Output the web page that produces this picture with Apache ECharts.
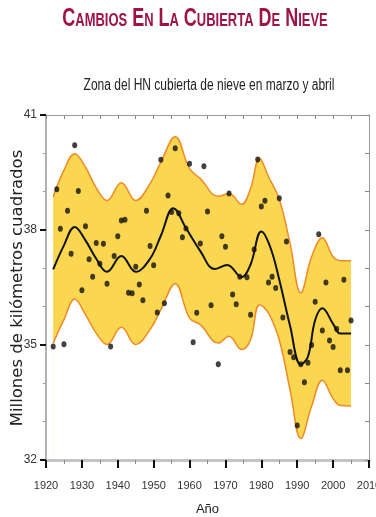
<!DOCTYPE html>
<html lang="es">
<head>
<meta charset="UTF-8">
<title>Cambios en la cubierta de nieve</title>
<script src="https://cdn.jsdelivr.net/npm/echarts@6/dist/echarts.min.js"></script>
<style>
  html, body { margin: 0; padding: 0; background: #fff; }
  #chart { width: 376px; height: 517px; }
</style>
</head>
<body>
<div id="chart"></div>
<script>
// observaciones anuales (millones de km2)
var obsYears = [1922, 1923, 1924, 1925, 1926, 1927, 1928, 1929, 1930, 1931, 1932, 1933, 1934, 1935, 1936, 1937, 1938, 1939,
    1940, 1941, 1942, 1943, 1944, 1945, 1946, 1947, 1948, 1949, 1950, 1951, 1952, 1953, 1954, 1955, 1956, 1957, 1958, 1959,
    1960, 1961, 1962, 1963, 1964, 1965, 1966, 1968, 1969, 1970, 1971, 1972, 1973, 1974, 1976, 1977, 1978, 1979,
    1980, 1981, 1982, 1983, 1984, 1985, 1986, 1987, 1988, 1989, 1990, 1991, 1992, 1993, 1994, 1995, 1996, 1997, 1998, 1999,
    2000, 2001, 2002, 2003, 2004, 2005];
var obsValues = [34.96, 39.06, 38.03, 35.02, 38.50, 37.38, 40.21, 39.02, 36.43, 38.10, 37.24, 36.78, 37.66, 37.12, 37.64, 36.60, 34.96, 37.32,
    37.84, 38.25, 38.27, 36.36, 36.35, 37.04, 36.58, 36.17, 38.50, 37.58, 37.08, 35.85, 39.83, 36.09, 38.90, 38.47, 40.13, 38.44, 37.81, 38.04,
    39.73, 35.07, 35.84, 37.65, 39.66, 38.48, 36.04, 34.50, 37.84, 37.56, 38.95, 36.32, 36.06, 36.78, 36.77, 35.79, 37.49, 39.84,
    38.61, 38.76, 36.63, 36.78, 36.49, 38.83, 35.72, 37.70, 34.82, 34.68, 32.90, 34.50, 34.03, 34.54, 35.00, 36.13, 37.89, 35.38, 36.63, 35.12,
    34.95, 35.42, 34.34, 36.70, 34.34, 35.64];

// curva suavizada
var trendYears = [1922, 1925, 1928, 1931, 1934, 1937, 1941, 1945, 1949, 1952, 1955.5, 1959, 1963, 1967, 1970.5, 1974.5, 1977, 1980,
    1982.5, 1985, 1988, 1991, 1993, 1995, 1997, 2000, 2002, 2005];
var trendValues = [36.97, 37.6, 38.08, 37.73, 37.25, 36.91, 37.32, 36.91, 37.25, 37.85, 38.57, 38.05, 37.45, 36.98, 37.09, 36.77, 37.1, 37.96,
    37.55, 36.7, 35.5, 34.49, 34.7, 35.65, 35.96, 35.55, 35.3, 35.3];

// banda de incertidumbre
var bandYears = [1922, 1925, 1928, 1931, 1934, 1937, 1941, 1945, 1949, 1952, 1956, 1960, 1963, 1968, 1971, 1974.5, 1977, 1979.5,
    1982, 1985, 1988, 1991, 1994, 1997, 2000, 2002, 2005];
var bandUpper = [38.86, 39.56, 39.99, 39.64, 39.1, 38.77, 39.23, 38.77, 39.21, 39.77, 40.43, 39.6, 39.34, 38.88, 38.95, 38.67, 39.08, 39.87,
    39.39, 38.8, 37.65, 36.36, 37.3, 37.8, 37.3, 37.2, 37.2];
var bandLower = [35.05, 35.66, 36.2, 35.79, 35.31, 35.01, 35.46, 35.01, 35.4, 35.92, 36.6, 35.7, 35.53, 35.05, 35.23, 34.88, 35.14, 36.05,
    35.83, 35.13, 33.83, 32.56, 33.4, 34.08, 33.6, 33.42, 33.41];

var chartDom = document.getElementById('chart');
var myChart = echarts.init(chartDom, null, { renderer: 'canvas' });

var upperData = bandYears.map(function (y, i) { return [y, bandUpper[i]]; });
var lowerData = bandYears.map(function (y, i) { return [y, bandLower[i]]; });
var trendData = trendYears.map(function (y, i) { return [y, trendValues[i]]; });
var obsData = obsYears.map(function (y, i) { return [y, obsValues[i]]; });

var labelFont = '"Liberation Sans", Arial, sans-serif';

var option = {
    animation: false,
    graphic: [
        {
            type: 'text', x: 195, y: 19, scaleX: 0.72,
            style: {
                text: 'Cambios En La Cubierta De Nieve',
                font: 'small-caps bold 25px "Liberation Sans"',
                fill: '#9e1447', textAlign: 'center', textVerticalAlign: 'middle'
            }
        },
        {
            type: 'text', x: 209, y: 86, scaleX: 0.75,
            style: {
                text: 'Zona del HN cubierta de nieve en marzo y abril',
                font: '16px "Liberation Sans"',
                fill: '#222', textAlign: 'center', textVerticalAlign: 'middle'
            }
        },
        {
            // título del eje vertical
            type: 'text', x: 18, y: 288, rotation: Math.PI / 2,
            style: {
                text: 'Millones de kilómetros cuadrados',
                font: '16.5px "DejaVu Sans"',
                fill: '#222', textAlign: 'center', textVerticalAlign: 'middle'
            }
        }
    ],
    grid: { left: 46, right: 7, top: 115, bottom: 57, containLabel: false, outerBoundsMode: 'none' },
    xAxis: [
        {
            type: 'value', min: 1920, max: 2010, interval: 10, z: 10,
            name: 'Año', nameLocation: 'middle', nameGap: 43,
            nameTextStyle: { fontFamily: labelFont, fontSize: 13, color: '#222' },
            axisLine: { lineStyle: { color: '#c4c4c4', width: 3 } },
            axisTick: { length: 8, lineStyle: { color: '#111', width: 2 } },
            minorTick: { show: true, splitNumber: 2, length: 4, lineStyle: { color: '#888', width: 1 } },
            axisLabel: {
                margin: 20, fontFamily: labelFont, fontSize: 11, color: '#333',
                formatter: function (v) { return String(v); }
            },
            splitLine: { show: false }
        },
        {
            type: 'value', min: 1920, max: 2010, interval: 5, position: 'top', z: 10,
            axisLine: { lineStyle: { color: '#999', width: 1 } },
            axisTick: { inside: true, length: 4, lineStyle: { color: '#888' } },
            axisLabel: { show: false },
            splitLine: { show: false }
        }
    ],
    yAxis: [
        {
            type: 'value', min: 32, max: 41, interval: 3, z: 10,
            axisLine: { show: true, lineStyle: { color: '#999', width: 1.5 } },
            axisTick: { show: true, length: 6, lineStyle: { color: '#111', width: 2 } },
            minorTick: { show: true, splitNumber: 3, length: 3, lineStyle: { color: '#999' } },
            axisLabel: { margin: 9, fontFamily: labelFont, fontSize: 12, color: '#333' },
            splitLine: { show: false }
        },
        {
            type: 'value', min: 32, max: 41, interval: 1, position: 'right', z: 10,
            axisLine: { show: true, lineStyle: { color: '#999', width: 1 } },
            axisTick: { show: true, inside: true, length: 4, lineStyle: { color: '#888' } },
            axisLabel: { show: false },
            splitLine: { show: false }
        }
    ],
    series: [
        {
            name: 'superior', type: 'line', smooth: 0.4,
            data: upperData, symbol: 'none',
            lineStyle: { color: '#f08a24', width: 1.5 },
            areaStyle: { color: '#fad651', opacity: 1, origin: 'start' },
            z: 1
        },
        {
            name: 'inferior', type: 'line', smooth: 0.4,
            data: lowerData, symbol: 'none',
            lineStyle: { color: '#f08a24', width: 1.5 },
            areaStyle: { color: '#ffffff', opacity: 1, origin: 'start' },
            z: 2
        },
        {
            name: 'tendencia', type: 'line', smooth: 0.4,
            data: trendData, symbol: 'none',
            lineStyle: { color: '#111', width: 2 },
            z: 3
        },
        {
            name: 'observaciones', type: 'scatter',
            data: obsData, symbol: 'circle', symbolSize: [5, 6],
            itemStyle: { color: '#111' },
            z: 4
        }
    ]
};
myChart.setOption(option);
</script>
</body>
</html>
